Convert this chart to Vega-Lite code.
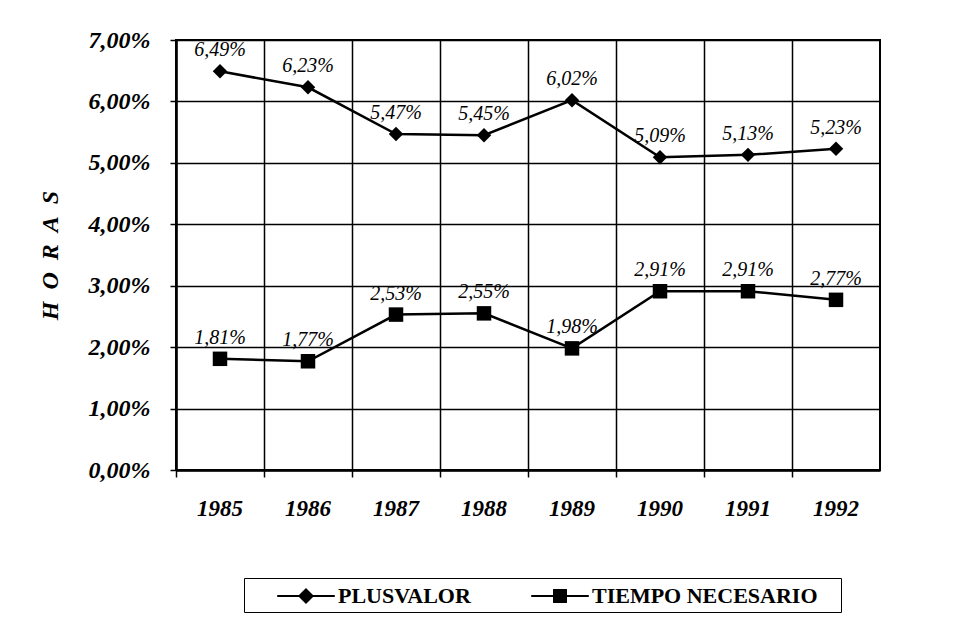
{
  "$schema": "https://vega.github.io/schema/vega-lite/v6.json",
  "autosize": {"type": "none"},
  "width": 704,
  "height": 430,
  "padding": {"left": 176, "top": 40, "right": 96, "bottom": 150},
  "background": "white",
  "config": {
    "locale": {"number": {"decimal": ",", "thousands": ".", "grouping": [3], "currency": ["", " €"]}},
    "view": {"stroke": "black", "strokeWidth": 2},
    "font": "Liberation Serif",
    "axis": {
      "labelFont": "Liberation Serif", "labelFontStyle": "italic", "labelFontWeight": "bold",
      "labelColor": "black"
    }
  },
  "data": {
    "values": [
      {"year": "1985", "serie": "PLUSVALOR", "value": 0.0649},
      {"year": "1986", "serie": "PLUSVALOR", "value": 0.0623},
      {"year": "1987", "serie": "PLUSVALOR", "value": 0.0547},
      {"year": "1988", "serie": "PLUSVALOR", "value": 0.0545},
      {"year": "1989", "serie": "PLUSVALOR", "value": 0.0602},
      {"year": "1990", "serie": "PLUSVALOR", "value": 0.0509},
      {"year": "1991", "serie": "PLUSVALOR", "value": 0.0513},
      {"year": "1992", "serie": "PLUSVALOR", "value": 0.0523},
      {"year": "1985", "serie": "TIEMPO NECESARIO", "value": 0.0181},
      {"year": "1986", "serie": "TIEMPO NECESARIO", "value": 0.0177},
      {"year": "1987", "serie": "TIEMPO NECESARIO", "value": 0.0253},
      {"year": "1988", "serie": "TIEMPO NECESARIO", "value": 0.0255},
      {"year": "1989", "serie": "TIEMPO NECESARIO", "value": 0.0198},
      {"year": "1990", "serie": "TIEMPO NECESARIO", "value": 0.0291},
      {"year": "1991", "serie": "TIEMPO NECESARIO", "value": 0.0291},
      {"year": "1992", "serie": "TIEMPO NECESARIO", "value": 0.0277}
    ]
  },
  "encoding": {
    "x": {
      "field": "year", "type": "ordinal", "bandPosition": 0.5,
      "scale": {"type": "band", "paddingInner": 0, "paddingOuter": 0},
      "axis": {
        "title": null, "labelAngle": 0, "grid": true, "bandPosition": 0,
        "gridColor": "black", "gridWidth": 1.5, "gridOpacity": 1,
        "domainColor": "black", "domainWidth": 2.5, "tickColor": "black", "tickSize": 7, "tickWidth": 1.5,
        "labelFont": "Liberation Serif", "labelFontSize": 23, "labelFontStyle": "italic", "labelFontWeight": "bold",
        "labelColor": "black", "labelPadding": 20
      }
    },
    "y": {
      "field": "value", "type": "quantitative",
      "scale": {"domain": [0, 0.07], "nice": false},
      "axis": {
        "values": [0, 0.01, 0.02, 0.03, 0.04, 0.05, 0.06, 0.07], "format": ".2%",
        "title": "H\u2002O\u2002R\u2002A\u2002S", "titleFont": "Liberation Serif", "titleFontSize": 24, "titleFontStyle": "italic",
        "titleFontWeight": "bold", "titleColor": "black", "titlePadding": 26,
        "grid": true, "gridColor": "black", "gridWidth": 1.5, "gridOpacity": 1,
        "domainColor": "black", "domainWidth": 2.5, "tickColor": "black", "tickSize": 6, "tickWidth": 1.5,
        "labelFont": "Liberation Serif", "labelFontSize": 24, "labelFontStyle": "italic", "labelFontWeight": "bold",
        "labelColor": "black", "labelPadding": 20
      }
    }
  },
  "layer": [
    {
      "mark": {"type": "line", "strokeWidth": 2.5},
      "encoding": {
        "color": {
          "field": "serie", "type": "nominal",
          "scale": {"range": ["black", "black"]},
          "legend": {
            "title": "\u00a0", "titleOrient": "right", "titlePadding": 18, "titleFontSize": 21,
            "orient": "none", "legendX": 68, "legendY": 538, "direction": "horizontal",
            "strokeColor": "black", "padding": 5, "symbolSize": 576, "symbolStrokeWidth": 2,
            "symbolOffset": 44, "labelOffset": 19, "columnPadding": 32, "labelLimit": 500,
            "labelFont": "Liberation Serif", "labelFontSize": 22, "labelFontWeight": "bold", "labelColor": "black",
            "encode": {
              "symbols": {
                "update": {
                  "shape": {"signal": "datum.value == 'PLUSVALOR' ? 'M-2.4,0L2.4,0M0,-0.55L0.55,0L0,0.55L-0.55,0Z' : 'M-2.4,0L2.4,0M-0.5,-0.5L0.5,-0.5L0.5,0.5L-0.5,0.5Z'"},
                  "fill": {"value": "black"},
                  "stroke": {"value": "black"}
                }
              }
            }
          }
        }
      }
    },
    {
      "mark": {"type": "point", "filled": true, "opacity": 1, "color": "black", "size": 210},
      "encoding": {
        "shape": {
          "field": "serie", "type": "nominal",
          "scale": {"range": ["diamond", "square"]},
          "legend": null
        }
      }
    },
    {
      "mark": {"type": "text", "dy": -21, "font": "Liberation Serif", "fontSize": 20, "fontStyle": "italic", "color": "black"},
      "encoding": {
        "text": {"field": "value", "type": "quantitative", "format": ".2%"}
      }
    }
  ]
}
